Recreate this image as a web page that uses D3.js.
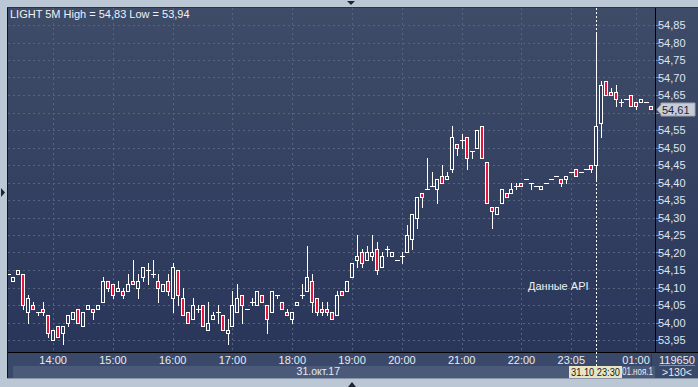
<!DOCTYPE html>
<html>
<head>
<meta charset="utf-8">
<script src="https://cdn.jsdelivr.net/npm/d3@7"></script>
<style>
  body { margin: 0; background: #bcc7d6; }
  svg { display: block; font-family: "Liberation Sans", Arial, sans-serif; }
</style>
</head>
<body>
<div id="chart"></div>
<script>
// 5 minute candles, LIGHT, 31.10 13:15 .. 01.11 01:xx
const opens = [
  54.14, 54.12, 54.14, 54.14, 54.03, 54.05, 54.03, 54.04, 54.02, 53.95,
  53.99, 53.97, 54.00, 54.01, 54.04, 53.99, 54.04, 54.04, 54.04, 54.06,
  54.12, 54.11, 54.09, 54.09, 54.09, 54.12, 54.10, 54.13, 54.15, 54.14,
  54.12, 54.09, 54.12, 54.07, 54.15, 54.07, 54.03, 54.01, 54.04, 54.05,
  53.98, 54.01, 54.03, 54.02, 53.97, 53.99, 54.03, 54.08, 54.04, 54.06,
  54.05, 54.08, 54.05, 54.03, 54.08, 54.06, 54.03, 54.01, 54.05, 54.08,
  54.09, 54.12, 54.07, 54.04, 54.04, 54.03, 54.02, 54.09, 54.09, 54.13,
  54.18, 54.20, 54.18, 54.19, 54.21, 54.16, 54.21, 54.19, 54.18, 54.19,
  54.20, 54.24, 54.30, 54.37, 54.38, 54.39, 54.38, 54.42, 54.41, 54.44,
  54.51, 54.52, 54.53, 54.49, 54.50, 54.56, 54.46, 54.33, 54.31, 54.34,
  54.37, 54.37, 54.39, 54.40, 54.41, 54.40, 54.39, 54.38, 54.40, 54.41,
  54.42, 54.41, 54.41, 54.43, 54.44, 54.43, 54.44, 54.45, 54.45, 54.57,
  54.69, 54.66, 54.66, 54.63, 54.64, 54.65, 54.63, 54.63, 54.63, 54.62
];
const highs = [
  54.14, 54.13, 54.15, 54.14, 54.08, 54.06, 54.03, 54.06, 54.02, 53.98,
  53.99, 53.99, 54.02, 54.03, 54.04, 54.03, 54.05, 54.04, 54.05, 54.13,
  54.12, 54.11, 54.12, 54.10, 54.14, 54.18, 54.14, 54.16, 54.17, 54.18,
  54.14, 54.11, 54.14, 54.17, 54.15, 54.10, 54.03, 54.07, 54.05, 54.05,
  54.06, 54.03, 54.05, 54.02, 54.01, 54.09, 54.11, 54.08, 54.04, 54.07,
  54.09, 54.08, 54.05, 54.09, 54.08, 54.06, 54.04, 54.03, 54.06, 54.11,
  54.22, 54.14, 54.07, 54.06, 54.06, 54.03, 54.09, 54.09, 54.12, 54.17,
  54.25, 54.21, 54.22, 54.25, 54.23, 54.20, 54.22, 54.20, 54.18, 54.20,
  54.28, 54.31, 54.36, 54.37, 54.47, 54.43, 54.41, 54.45, 54.43, 54.56,
  54.51, 54.54, 54.53, 54.49, 54.55, 54.56, 54.46, 54.33, 54.33, 54.38,
  54.37, 54.40, 54.40, 54.40, 54.41, 54.40, 54.39, 54.39, 54.40, 54.41,
  54.42, 54.41, 54.42, 54.43, 54.44, 54.43, 54.44, 54.45, 54.83, 54.69,
  54.69, 54.67, 54.68, 54.64, 54.64, 54.65, 54.63, 54.64, 54.63, 54.62
];
const lows = [
  54.14, 54.12, 54.14, 54.04, 54.00, 54.04, 54.02, 54.02, 53.96, 53.95,
  53.96, 53.94, 53.99, 54.01, 54.00, 53.99, 54.04, 54.01, 54.04, 54.06,
  54.09, 54.07, 54.09, 54.07, 54.09, 54.11, 54.07, 54.12, 54.11, 54.13,
  54.06, 54.09, 54.08, 54.03, 54.05, 54.02, 54.00, 54.01, 54.03, 53.99,
  53.98, 54.01, 54.00, 53.98, 53.94, 53.99, 54.03, 54.00, 54.04, 54.05,
  54.05, 54.06, 53.97, 54.03, 54.07, 54.04, 54.02, 54.00, 54.05, 54.07,
  54.09, 54.03, 54.02, 54.02, 54.02, 54.01, 54.02, 54.08, 54.09, 54.13,
  54.16, 54.16, 54.18, 54.18, 54.14, 54.16, 54.19, 54.19, 54.18, 54.17,
  54.20, 54.21, 54.27, 54.33, 54.38, 54.39, 54.34, 54.40, 54.41, 54.43,
  54.48, 54.50, 54.44, 54.47, 54.50, 54.47, 54.34, 54.27, 54.31, 54.34,
  54.36, 54.37, 54.38, 54.39, 54.41, 54.38, 54.39, 54.38, 54.40, 54.41,
  54.42, 54.39, 54.40, 54.43, 54.42, 54.43, 54.44, 54.43, 54.41, 54.53,
  54.65, 54.65, 54.62, 54.62, 54.64, 54.62, 54.61, 54.63, 54.63, 54.61
];
const closes = [
  54.14, 54.13, 54.15, 54.05, 54.07, 54.04, 54.03, 54.03, 53.97, 53.98,
  53.96, 53.99, 54.02, 54.03, 54.00, 54.03, 54.05, 54.03, 54.05, 54.12,
  54.10, 54.08, 54.10, 54.08, 54.11, 54.11, 54.12, 54.16, 54.15, 54.14,
  54.10, 54.11, 54.09, 54.16, 54.08, 54.02, 54.00, 54.05, 54.04, 53.99,
  54.00, 54.02, 54.03, 53.98, 53.98, 54.05, 54.07, 54.05, 54.04, 54.06,
  54.09, 54.06, 54.01, 54.09, 54.08, 54.04, 54.02, 54.03, 54.06, 54.08,
  54.13, 54.06, 54.03, 54.03, 54.03, 54.01, 54.08, 54.08, 54.12, 54.17,
  54.19, 54.17, 54.20, 54.20, 54.15, 54.19, 54.21, 54.20, 54.18, 54.19,
  54.25, 54.31, 54.36, 54.36, 54.38, 54.39, 54.41, 54.40, 54.42, 54.53,
  54.50, 54.52, 54.47, 54.49, 54.55, 54.47, 54.34, 54.32, 54.33, 54.38,
  54.36, 54.38, 54.39, 54.39, 54.41, 54.40, 54.39, 54.39, 54.40, 54.41,
  54.42, 54.40, 54.42, 54.43, 54.42, 54.43, 54.44, 54.44, 54.56, 54.68,
  54.65, 54.65, 54.64, 54.63, 54.64, 54.62, 54.62, 54.64, 54.63, 54.61
];

// x axis: candle index of each time label
const xTickIdx = [9, 21, 33, 45, 57, 69, 79, 91, 103, 113, 126];
const xTickLabels = ['14:00', '15:00', '16:00', '17:00', '18:00', '19:00', '20:00', '21:00', '22:00', '23:05', '01:00'];
const yTicks = [53.95, 54.00, 54.05, 54.10, 54.15, 54.20, 54.25, 54.30, 54.35, 54.40,
                54.45, 54.50, 54.55, 54.60, 54.65, 54.70, 54.75, 54.80, 54.85];
const yTickLabels = ['53,95', '54,00', '54,05', '54,10', '54,15', '54,20', '54,25', '54,30', '54,35', '54,40',
                     '54,45', '54,50', '54,55', '54,60', '54,65', '54,70', '54,75', '54,80', '54,85'];
const cursorIdx = 118;
const lastPrice = 54.61;

const W = 698, H = 387;
const plot = { left: 8, top: 8, right: 655, bottom: 352 };

const svg = d3.select('#chart').append('svg')
    .attr('width', W)
    .attr('height', H);

const defs = svg.append('defs');
const grad = defs.append('linearGradient')
    .attr('id', 'bg').attr('x1', 0).attr('y1', 0).attr('x2', 0).attr('y2', 1);
grad.append('stop').attr('offset', '0%').attr('stop-color', '#3f4c68');
grad.append('stop').attr('offset', '100%').attr('stop-color', '#29365a');

defs.append('clipPath').attr('id', 'plotClip')
    .append('rect')
    .attr('x', plot.left).attr('y', plot.top)
    .attr('width', plot.right - plot.left).attr('height', plot.bottom - plot.top);

// outer light frame
svg.append('rect').attr('width', W).attr('height', H).attr('fill', '#bcc7d6');

// chart + right price panel background
svg.append('rect')
    .attr('x', plot.left).attr('y', plot.top)
    .attr('width', W - plot.left).attr('height', plot.bottom - plot.top)
    .attr('fill', 'url(#bg)');

// bottom time axis strip
svg.append('rect')
    .attr('x', plot.left).attr('y', plot.bottom)
    .attr('width', W - plot.left).attr('height', 26)
    .attr('fill', '#3a4969');
svg.append('rect')
    .attr('x', 13).attr('y', 366)
    .attr('width', plot.right - 13).attr('height', 12)
    .attr('fill', '#4b5a78');

const x = d3.scaleLinear().domain([0, opens.length - 1]).range([8.3, 651]);
const y = d3.scaleLinear().domain([53.95, 54.85]).range([340, 25]);
const px = i => Math.round(x(i)) + 0.5;
const py = v => Math.round(y(v)) + 0.5;

// grid
const grid = svg.append('g')
    .attr('stroke', '#55647f')
    .attr('stroke-width', 1)
    .attr('stroke-dasharray', '2,3');
grid.selectAll('line.h')
    .data(yTicks)
    .enter().append('line')
    .attr('class', 'h')
    .attr('x1', plot.left).attr('x2', plot.right)
    .attr('y1', d => py(d)).attr('y2', d => py(d));
grid.selectAll('line.v')
    .data(xTickIdx)
    .enter().append('line')
    .attr('class', 'v')
    .attr('x1', d => px(d)).attr('x2', d => px(d))
    .attr('y1', plot.top).attr('y2', plot.bottom);

// candles
const candles = d3.range(opens.length).map(i => ({
    i: i, o: opens[i], h: highs[i], l: lows[i], c: closes[i]
}));

const cg = svg.append('g').attr('clip-path', 'url(#plotClip)');

// cursor line
cg.append('line')
    .attr('x1', px(cursorIdx)).attr('x2', px(cursorIdx))
    .attr('y1', plot.top).attr('y2', plot.bottom)
    .attr('stroke', '#ffffff')
    .attr('stroke-dasharray', '2,2');

const candle = cg.selectAll('g.candle')
    .data(candles)
    .enter().append('g')
    .attr('class', 'candle');

// upper wick
candle.append('line')
    .attr('x1', d => px(d.i)).attr('x2', d => px(d.i))
    .attr('y1', d => py(d.h) - 0.5)
    .attr('y2', d => py(Math.max(d.o, d.c)))
    .attr('stroke', '#ffffff');
// lower wick
candle.append('line')
    .attr('x1', d => px(d.i)).attr('x2', d => px(d.i))
    .attr('y1', d => py(Math.min(d.o, d.c)))
    .attr('y2', d => py(d.l) + 0.5)
    .attr('stroke', '#ffffff');

// bodies
candle.filter(d => d.o !== d.c)
    .append('rect')
    .attr('x', d => px(d.i) - 2)
    .attr('width', 3)
    .attr('y', d => py(Math.max(d.o, d.c)))
    .attr('height', d => py(Math.min(d.o, d.c)) - py(Math.max(d.o, d.c)))
    .attr('fill', d => d.c > d.o ? '#2f3c5e' : '#e3173e')
    .attr('stroke', '#ffffff')
    .attr('stroke-width', 1);

// doji
candle.filter(d => d.o === d.c)
    .append('line')
    .attr('x1', d => px(d.i) - 2.5).attr('x2', d => px(d.i) + 2.5)
    .attr('y1', d => py(d.o)).attr('y2', d => py(d.o))
    .attr('stroke', '#ffffff');

// frame lines
svg.append('line').attr('x1', 7.5).attr('x2', 7.5).attr('y1', 7).attr('y2', 378)
    .attr('stroke', '#10141e');
svg.append('line').attr('x1', 7).attr('x2', W).attr('y1', 7.5).attr('y2', 7.5)
    .attr('stroke', '#2a3346');
svg.append('line').attr('x1', plot.right + 0.5).attr('x2', plot.right + 0.5)
    .attr('y1', plot.top).attr('y2', plot.bottom)
    .attr('stroke', '#000000');
svg.append('line').attr('x1', plot.left).attr('x2', W)
    .attr('y1', plot.bottom + 0.5).attr('y2', plot.bottom + 0.5)
    .attr('stroke', '#000000');
svg.append('line').attr('x1', 7).attr('x2', W)
    .attr('y1', 378.5).attr('y2', 378.5)
    .attr('stroke', '#8996aa');

// title
svg.append('text')
    .attr('x', 10).attr('y', 18)
    .attr('font-size', 11)
    .attr('fill', '#eef1f7')
    .text('LIGHT 5M High = 54,83 Low = 53,94');

// watermark-like label
svg.append('text')
    .attr('x', 528).attr('y', 290)
    .attr('font-size', 11)
    .attr('fill', '#eef1f7')
    .text('Данные API');

// price axis (54,60 sits under the last price marker, as in the terminal)
const yAxis = svg.append('g');
yAxis.selectAll('line')
    .data(yTicks)
    .enter().append('line')
    .attr('x1', 656).attr('x2', 659)
    .attr('y1', d => py(d)).attr('y2', d => py(d))
    .attr('stroke', '#6a8fd0');
yAxis.selectAll('text')
    .data(yTicks.filter(d => Math.abs(d - lastPrice) > 0.02))
    .enter().append('text')
    .attr('x', 658)
    .attr('y', d => y(d) + 4)
    .attr('font-size', 11)
    .attr('fill', '#dfe6f2')
    .text(d => yTickLabels[yTicks.indexOf(d)]);

// last price marker
const ly = py(lastPrice);
svg.append('path')
    .attr('d', `M657,${ly} L661,${ly - 5} L661,${ly - 6.5} L695,${ly - 6.5} L695,${ly + 6.5} L661,${ly + 6.5} L661,${ly + 5} Z`)
    .attr('fill', '#c8ccd5')
    .attr('stroke', '#9aa2b2');
svg.append('text')
    .attr('x', 662).attr('y', ly + 4)
    .attr('font-size', 11)
    .attr('fill', '#1c2840')
    .text('54,61');

// time axis labels
const xAxis = svg.append('g');
xAxis.selectAll('text.t')
    .data(xTickIdx)
    .enter().append('text')
    .attr('class', 't')
    .attr('x', d => x(d))
    .attr('y', 364)
    .attr('text-anchor', 'middle')
    .attr('font-size', 11)
    .attr('fill', '#e6ebf4')
    .text((d, i) => xTickLabels[i]);

xAxis.append('text')
    .attr('x', 340).attr('y', 375)
    .attr('text-anchor', 'end')
    .attr('font-size', 10.5)
    .attr('fill', '#e6ebf4')
    .text('31.окт.17');
xAxis.append('text')
    .attr('x', 622).attr('y', 375)
    .attr('font-size', 10)
    .attr('textLength', 31)
    .attr('lengthAdjust', 'spacingAndGlyphs')
    .attr('fill', '#e6ebf4')
    .text('01.ноя.1');

// cursor time box
svg.append('line')
    .attr('x1', px(cursorIdx)).attr('x2', px(cursorIdx))
    .attr('y1', plot.bottom).attr('y2', 366)
    .attr('stroke', '#ffffff')
    .attr('stroke-dasharray', '2,2');
svg.append('rect')
    .attr('x', 569).attr('y', 366)
    .attr('width', 53).attr('height', 12)
    .attr('fill', '#e8e4c4');
svg.append('text')
    .attr('x', 595.5).attr('y', 376)
    .attr('text-anchor', 'middle')
    .attr('font-size', 10)
    .attr('textLength', 49)
    .attr('lengthAdjust', 'spacingAndGlyphs')
    .attr('fill', '#1a1a1a')
    .text('31.10 23:30');

// bottom-right counters
svg.append('line')
    .attr('x1', 651.5).attr('x2', 651.5).attr('y1', 354).attr('y2', 366)
    .attr('stroke', '#2b3754');
svg.append('line')
    .attr('x1', 659).attr('x2', 695).attr('y1', 365.5).attr('y2', 365.5)
    .attr('stroke', '#7f8da6');
svg.append('text')
    .attr('x', 677).attr('y', 364)
    .attr('text-anchor', 'middle')
    .attr('font-size', 11)
    .attr('fill', '#e6ebf4')
    .text('119650');
svg.append('text')
    .attr('x', 677).attr('y', 376)
    .attr('text-anchor', 'middle')
    .attr('font-size', 10.5)
    .attr('fill', '#e6ebf4')
    .text('>130<');

// splitter arrows
svg.append('path').attr('d', 'M347,1 L355,1 L351,5 Z').attr('fill', '#1c2436');
svg.append('path').attr('d', 'M1,188 L5,192.5 L1,197 Z').attr('fill', '#1c2436');
svg.append('path').attr('d', 'M348,387 L352,382 L356,387 Z').attr('fill', '#1c2436');
</script>
</body>
</html>
